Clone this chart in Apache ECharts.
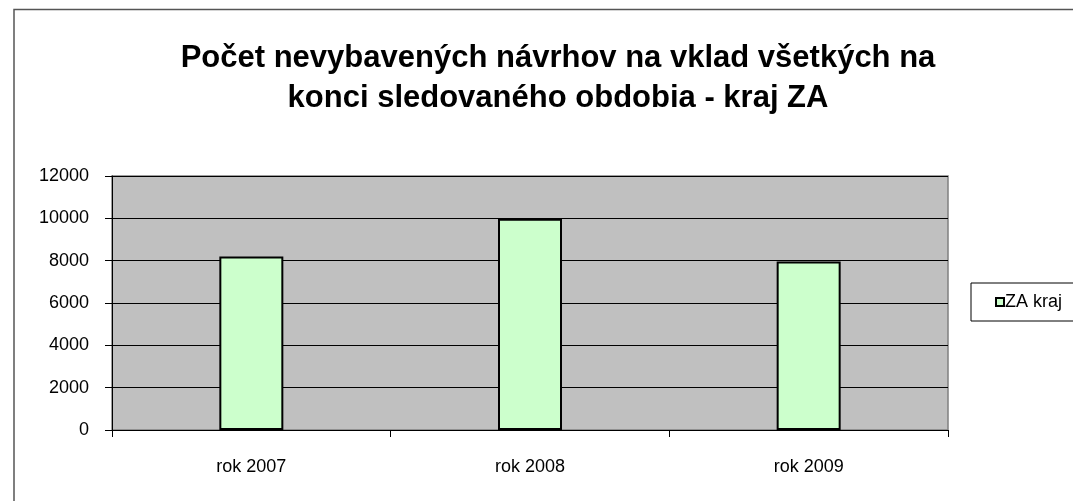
<!DOCTYPE html>
<html>
<head>
    <meta charset="utf-8">
    <title>ECharts</title>
    <script src="https://cdn.jsdelivr.net/npm/echarts@6/dist/echarts.min.js"></script>
    <style>
        html, body { margin: 0; padding: 0; background: #fff; }
    </style>
</head>
<body>
    <div id="chart" style="width: 1073px;height:501px;"></div>
    <script type="text/javascript">
    // data
    var categories = ['rok 2007', 'rok 2008', 'rok 2009'];
    var zaKraj = [8200, 9980, 7960];
    var seriesName = 'ZA kraj';
    var titleText = 'Počet nevybavených návrhov na vklad všetkých na\nkonci sledovaného obdobia - kraj ZA';

    var chart = echarts.init(document.getElementById('chart'));
    chart.setOption({
        animation: false,
        textStyle: { fontFamily: 'Liberation Sans, Arial, sans-serif' },
        graphic: [{
            // outer chart frame
            type: 'rect',
            shape: { x: 14, y: 9.5, width: 1100, height: 600 },
            style: { fill: 'none', stroke: '#555', lineWidth: 1.5 },
            silent: true
        }],
        title: {
            text: titleText,
            left: 558,
            textAlign: 'center',
            top: 38,
            padding: 0,
            textStyle: {
                fontSize: 31,
                fontWeight: 'bold',
                color: '#000',
                lineHeight: 40,
                fontFamily: 'Liberation Sans, Arial, sans-serif'
            }
        },
        legend: {
            data: [seriesName],
            left: 971,
            top: 283,
            orient: 'vertical',
            padding: [10, 60, 10, 24],
            borderColor: '#000',
            borderWidth: 1,
            itemWidth: 8,
            itemHeight: 8,
            itemGap: 4,
            icon: 'rect',
            itemStyle: { borderColor: '#000', borderWidth: 2 },
            textStyle: { fontSize: 18, color: '#000', padding: [0, 0, 0, -4] }
        },
        grid: {
            left: 112,
            top: 176,
            right: 125,
            bottom: 71,
            show: true,
            backgroundColor: '#C0C0C0',
            borderColor: '#808080',
            borderWidth: 1.5
        },
        xAxis: {
            type: 'category',
            data: categories,
            axisLine: { lineStyle: { color: '#000', width: 1 } },
            axisTick: { show: true, length: 7, lineStyle: { color: '#000' } },
            axisLabel: { fontSize: 18, color: '#000', margin: 28 }
        },
        yAxis: {
            type: 'value',
            min: 0,
            max: 12000,
            interval: 2000,
            axisLine: { show: true, lineStyle: { color: '#000', width: 1 } },
            axisTick: { show: true, length: 7, lineStyle: { color: '#000' } },
            axisLabel: {
                fontSize: 18,
                color: '#000',
                margin: 23,
                formatter: function (v) { return String(v); }
            },
            splitLine: { lineStyle: { color: '#000', width: 1 } }
        },
        series: [{
            name: seriesName,
            type: 'bar',
            data: zaKraj,
            barWidth: 64,
            itemStyle: {
                color: '#CCFFCC',
                borderColor: '#000',
                borderWidth: 2
            }
        }]
    });
    </script>
</body>
</html>
